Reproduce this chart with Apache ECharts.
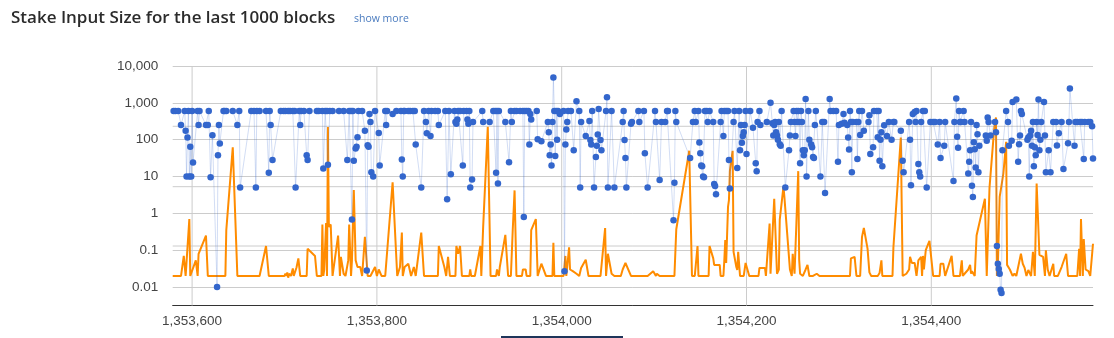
<!DOCTYPE html>
<html><head><meta charset="utf-8">
<script src="https://cdn.jsdelivr.net/npm/echarts@6/dist/echarts.min.js"></script>
<style>html,body{margin:0;padding:0;background:#fff}#c{width:1114px;height:338px}</style>
</head><body><div id="c"></div>
<script>
// ---------- DATA ----------
const titleText = 'Stake Input Size for the last 1000 blocks';
const linkText = 'show more';
const firstBlock = 1353579;
const lastBlock = 1354575;
const xTickValues = [1353600, 1353800, 1354000, 1354200, 1354400];
const xTickLabels = ['1,353,600', '1,353,800', '1,354,000', '1,354,200', '1,354,400'];
const yTickPowers = [-2, -1, 0, 1, 2, 3, 4];
const yTickLabels = ['0.01', '0.1', '1', '10', '100', '1,000', '10,000'];
const yMin = 0.00316;
const yMax = 10000;
const extraGridValues = [231, 5.3, 0.13];

// [block height, stake input size]
const stakePoints = [
[1353580,600],[1353582,600],[1353585,600],[1353588,250],[1353592,600],[1353593,175],[1353594,10],[1353595,115],[1353596,600],[1353597,10],[1353598,64],[1353599,10],[1353600,600],[1353601,24],[1353606,600],[1353607,250],[1353608,600],[1353615,250],[1353617,250],[1353618,600],[1353620,9.6],[1353622,131],[1353627,0.01],[1353628,38],[1353629,250],[1353630,79],[1353634,600],[1353635,600],[1353637,600],[1353644,600],[1353649,250],[1353651,600],[1353652,5],[1353664,600],[1353667,600],[1353669,5],[1353670,600],[1353673,600],[1353680,600],[1353683,12.6],[1353684,600],[1353685,250],[1353687,28],[1353696,600],[1353699,600],[1353701,600],[1353704,600],[1353706,600],[1353709,600],[1353711,600],[1353712,5],[1353716,600],[1353717,250],[1353718,600],[1353721,600],[1353724,38],[1353725,28],[1353727,600],[1353735,600],[1353737,600],[1353741,600],[1353742,16.6],[1353744,600],[1353746,600],[1353747,21],[1353749,600],[1353752,600],[1353759,600],[1353764,600],[1353768,28],[1353770,600],[1353772,600],[1353773,0.68],[1353774,600],[1353775,27],[1353777,58],[1353778,64],[1353779,117],[1353780,600],[1353784,600],[1353787,175],[1353789,0.028],[1353790,71],[1353791,64],[1353792,500],[1353793,300],[1353794,13],[1353796,10],[1353798,600],[1353802,151],[1353803,20],[1353809,600],[1353810,250],[1353811,600],[1353817,500],[1353821,600],
[1353826,600],[1353827,29],[1353828,10],[1353829,600],[1353830,600],[1353834,600],[1353836,600],[1353839,600],[1353841,600],[1353842,74],[1353848,5],[1353851,600],[1353853,300],[1353854,150],[1353856,600],[1353858,125],[1353859,600],[1353863,600],[1353866,600],[1353867,250],[1353874,600],[1353876,2.4],[1353878,600],[1353880,11.6],[1353884,600],[1353885,300],[1353886,270],[1353887,355],[1353888,600],[1353890,600],[1353893,20],[1353894,600],[1353897,600],[1353898,355],[1353899,270],[1353900,600],[1353901,5],[1353903,8.3],[1353904,300],[1353914,600],[1353915,300],[1353922,300],[1353926,600],[1353928,600],[1353929,12.6],[1353930,600],[1353931,6.5],[1353932,600],[1353939,300],[1353943,24.6],[1353945,600],[1353946,300],[1353949,600],[1353951,600],[1353955,600],[1353958,600],[1353959,0.8],[1353960,600],[1353962,600],[1353964,600],[1353965,74],[1353966,500],[1353967,355],[1353973,600],[1353974,102],[1353978,90],[1353985,300],[1353986,160],[1353987,38],[1353988,74],[1353989,20],[1353990,300],[1353991,4900],[1353992,600],[1353993,36],[1353994,600],[1353995,100],[1353996,600],[1353998,500],
[1354002,600],[1354003,0.027],[1354004,74],[1354005,190],[1354006,300],[1354007,600],[1354010,600],[1354013,52],[1354016,1100],[1354019,600],[1354020,5],[1354021,300],[1354026,125],[1354030,320],[1354031,98],[1354032,74],[1354033,600],[1354035,5],[1354037,34],[1354038,68],[1354039,139],[1354040,680],[1354042,98],[1354043,52],[1354048,600],[1354049,1410],[1354050,5],[1354054,600],[1354057,5],[1354066,300],[1354067,600],[1354068,98],[1354069,32],[1354070,5],[1354075,270],[1354076,300],[1354083,600],[1354084,300],[1354089,600],[1354090,43],[1354093,5],[1354101,600],[1354102,300],[1354106,8],[1354108,300],[1354112,300],[1354114,600],[1354115,600],[1354121,0.65],[1354122,6.8],[1354123,600],[1354124,300],[1354139,32],[1354142,300],[1354144,600],[1354145,300],[1354148,600],[1354149,84],[1354150,43],[1354151,20],[1354152,19],[1354153,10],[1354154,9.5],[1354155,600],[1354157,600],[1354158,300],[1354160,600],[1354164,300],[1354165,6.3],[1354166,5.5],[1354167,3.3],[1354172,300],[1354173,600],[1354175,125],[1354176,600],[1354178,600],[1354180,600],[1354181,28],[1354182,4.7],[1354186,300],[1354187,600],[1354190,17],[1354192,600],[1354193,52],[1354194,250],[1354195,82],[1354196,125],[1354197,160],[1354198,250],[1354199,600],[1354200,41],[1354204,600],[1354207,210],[1354210,23],[1354211,14],[1354212,300],[1354214,600],[1354215,250],[1354222,300],[1354226,1010],[1354228,280],[1354229,130],[1354230,250],[1354231,300],[1354232,160],[1354233,130],[1354234,100],[1354235,300],[1354236,75],[1354237,68],[1354238,600],[1354242,5],[1354246,52],[1354247,130],[1354248,300],[1354251,600],[1354252,300],[1354253,125],[1354254,600],[1354255,300],[1354256,600],[1354257,300],[1354258,23],[1354259,600],[1354260,300],[1354261,52],[1354262,38],[1354263,52],[1354264,1270],[1354265,10],[1354267,600],[1354268,100],[1354270,74],[1354271,62],[1354272,34],[1354273,32],[1354274,250],[1354275,600],[1354280,10],[1354282,300],[1354284,300],[1354285,3.6],[1354290,1270],[1354291,600],[1354294,600],[1354297,600],[1354299,25],[1354300,250],
[1354303,270],[1354305,500],[1354306,290],[1354309,250],[1354310,115],[1354311,54],[1354312,600],[1354313,300],[1354314,13],[1354315,300],[1354319,300],[1354320,30],[1354321,300],[1354322,600],[1354323,135],[1354325,600],[1354327,175],[1354332,300],[1354333,460],[1354334,41],[1354337,62],[1354338,600],[1354341,600],[1354342,117],[1354343,600],[1354344,27],[1354345,100],[1354346,160],[1354347,19],[1354349,245],[1354352,125],[1354354,300],[1354357,100],[1354359,300],[1354360,300],[1354367,175],[1354369,27],[1354370,13],[1354376,300],[1354377,100],[1354378,5.8],[1354380,500],[1354382,560],[1354383,300],[1354384,600],[1354386,22],[1354387,13],[1354388,10],[1354389,300],[1354391,600],[1354393,600],[1354395,5],[1354399,300],[1354402,300],[1354404,300],[1354407,74],[1354409,300],[1354410,32],[1354414,68],[1354415,300],[1354424,7.6],[1354425,300],[1354427,1320],[1354428,120],[1354429,60],[1354430,600],[1354431,300],[1354432,300],[1354435,600],[1354436,300],[1354440,12],[1354441,25],[1354442,52],[1354443,300],[1354444,5.6],[1354445,2.8],[1354446,85],[1354447,55],[1354448,17.6],[1354449,250],[1354450,140],[1354451,13],[1354452,68],[1354459,130],[1354460,94],[1354461,400],[1354462,300],[1354464,130],[1354469,300],[1354470,160],[1354471,0.13],[1354472,0.043],[1354473,0.031],[1354474,0.023],[1354475,0.0085],[1354476,0.0069],[1354477,52],[1354481,600],[1354483,300],[1354484,68],[1354487,94],[1354488,1050],[1354492,1240],[1354494,25],[1354495,75],[1354496,130],[1354497,600],[1354498,500],[1354504,100],[1354505,115],[1354506,10],[1354507,130],[1354508,175],[1354509,68],[1354510,300],[1354511,19],[1354512,62],[1354513,38],[1354514,300],[1354515,135],[1354516,1240],[1354517,52],[1354518,100],[1354519,300],[1354522,1050],[1354523,130],[1354524,13],[1354527,52],[1354529,13],[1354532,300],[1354535,300],[1354536,70],[1354538,150],[1354541,300],[1354543,16],[1354548,80],[1354549,300],[1354550,2470],[1354555,68],[1354556,300],[1354558,300],[1354561,300],[1354563,300],[1354565,30],[1354566,300],[1354570,300],[1354572,300],[1354574,230],[1354575,31]
];

// [block height, second (orange) series value]
const orangePoints = [
[1353579,0.02],[1353588,0.02],[1353591,0.07],[1353593,0.02],[1353595,0.02],[1353597,0.7],[1353598,0.02],[1353604,0.053],[1353606,0.02],[1353607,0.08],[1353615,0.25],[1353617,0.02],[1353636,0.02],[1353637,0.35],[1353644,62],[1353649,0.02],[1353673,0.02],[1353680,0.13],[1353683,0.02],[1353700,0.02],[1353701,0.023],[1353702,0.02],[1353703,0.025],[1353704,0.018],[1353705,0.023],[1353707,0.02],[1353709,0.032],[1353710,0.02],[1353713,0.034],[1353715,0.06],[1353717,0.02],[1353724,0.02],[1353725,0.11],[1353733,0.07],[1353735,0.02],[1353740,0.02],[1353741,0.5],[1353742,0.02],[1353743,0.03],[1353745,0.55],[1353746,0.02],[1353747,220],[1353748,0.43],[1353750,0.5],[1353752,0.02],[1353758,0.25],[1353760,0.02],[1353761,0.066],[1353764,0.023],[1353766,0.02],[1353769,0.053],[1353770,0.5],[1353772,0.02],[1353773,0.053],[1353775,4.3],[1353777,0.053],[1353779,0.035],[1353782,0.035],[1353784,0.02],[1353787,0.23],[1353789,0.23],[1353790,0.02],[1353793,0.02],[1353798,0.035],[1353800,0.02],[1353802,0.03],[1353805,0.02],[1353809,0.02],[1353817,7],[1353822,0.02],[1353825,0.035],[1353827,0.3],[1353828,0.02],[1353830,0.035],[1353834,0.043],[1353837,0.02],[1353839,0.02],[1353840,0.035],[1353842,0.02],[1353848,0.3],[1353851,0.02],[1353866,0.02],[1353867,0.13],[1353873,0.035],[1353875,0.02],[1353877,0.066],[1353879,0.02],[1353885,0.02],[1353886,0.13],[1353888,0.08],[1353890,0.13],[1353892,0.02],[1353900,0.02],[1353901,0.03],[1353902,0.02],[1353906,0.02],[1353912,0.13],[1353913,0.02],[1353915,0.43],[1353920,225],[1353923,0.02],[1353929,0.02],[1353930,0.03],[1353932,0.02],[1353933,0.035],[1353939,0.26],[1353942,0.02],[1353945,0.02],[1353947,0.35],[1353949,4.2],[1353951,0.02],[1353957,0.02],[1353958,0.03],[1353961,0.03],[1353962,0.02],[1353966,0.02],[1353967,0.35],[1353972,0.7],[1353974,0.02],[1353978,0.043],[1353983,0.02],[1353990,0.02],[1353991,0.16],[1353992,0.02],
[1354002,0.02],[1354004,0.07],[1354005,0.02],[1354008,0.12],[1354009,0.03],[1354012,0.027],[1354016,0.023],[1354019,0.02],[1354021,0.033],[1354026,0.055],[1354029,0.02],[1354042,0.02],[1354047,0.4],[1354048,0.02],[1354050,0.08],[1354054,0.023],[1354057,0.02],[1354064,0.02],[1354066,0.03],[1354069,0.045],[1354075,0.02],[1354093,0.02],[1354099,0.027],[1354101,0.03],[1354102,0.02],[1354103,0.023],[1354106,0.02],[1354122,0.02],[1354124,0.37],[1354138,50],[1354141,0.02],[1354144,0.02],[1354147,0.13],[1354148,0.02],[1354159,0.02],[1354160,0.13],[1354164,0.06],[1354165,0.04],[1354171,0.04],[1354172,0.02],[1354175,0.02],[1354176,0.053],[1354177,0.19],[1354178,0.045],[1354180,1.5],[1354181,2.3],[1354182,14],[1354183,22],[1354185,50],[1354186,0.09],[1354189,0.035],[1354190,0.029],[1354191,0.09],[1354193,0.02],[1354197,0.02],[1354199,0.045],[1354203,0.02],[1354213,0.02],[1354214,0.033],[1354220,0.033],[1354221,0.02],[1354225,0.53],[1354226,0.023],[1354230,2.5],[1354232,2.5],[1354233,0.023],[1354235,0.03],[1354236,0.68],[1354240,5.3],[1354241,2.8],[1354247,0.03],[1354249,0.02],[1354250,0.08],[1354252,0.023],[1354254,0.55],[1354256,14],[1354257,0.055],[1354258,0.023],[1354261,0.02],[1354264,0.03],[1354266,0.04],[1354268,0.02],[1354272,0.02],[1354276,0.023],[1354279,0.02],[1354312,0.02],[1354313,0.06],[1354317,0.066],[1354319,0.02],[1354323,0.02],[1354325,0.23],[1354327,0.4],[1354331,0.11],[1354333,0.025],[1354335,0.02],[1354342,0.02],[1354344,0.024],[1354346,0.053],[1354347,0.02],[1354358,0.02],[1354359,0.12],[1354367,115],[1354369,0.02],[1354373,0.023],[1354376,0.03],[1354377,0.066],[1354379,0.045],[1354382,0.045],[1354384,0.02],[1354386,0.053],[1354389,0.066],[1354390,0.02],[1354391,0.07],[1354392,0.03],[1354394,0.1],[1354398,0.18],[1354402,0.02],[1354409,0.02],[1354410,0.043],[1354413,0.043],[1354415,0.02],[1354422,0.07],[1354424,0.02],[1354431,0.02],[1354433,0.053],[1354434,0.02],[1354436,0.023],[1354440,0.03],[1354442,0.04],[1354443,0.023],[1354444,0.027],[1354447,0.02],[1354449,0.25],[1354458,2.5],[1354460,0.02],[1354463,5],[1354468,190],[1354470,400],[1354471,0.02],[1354472,0.035],[1354474,2.8],[1354478,12],[1354481,88],[1354482,0.04],[1354485,0.03],[1354488,0.02],[1354490,0.023],[1354492,0.02],[1354497,0.08],[1354499,0.043],[1354501,0.033],[1354503,0.02],[1354505,0.029],[1354508,0.02],[1354510,0.09],[1354512,0.02],[1354514,6.5],[1354517,0.075],[1354521,0.066],[1354523,0.02],[1354524,0.1],[1354526,0.03],[1354528,0.02],[1354532,0.043],[1354533,0.02],[1354537,0.02],[1354541,0.035],[1354546,0.08],[1354548,0.02],[1354558,0.02],[1354560,0.11],[1354561,0.02],[1354562,0.7],[1354564,0.02],[1354565,0.2],[1354567,0.03],[1354570,0.027],[1354572,0.02],[1354575,0.15]
];

// ---------- CHART ----------
const chart = echarts.init(document.getElementById('c'), null, {renderer: 'canvas'});
const labelFont = '"Liberation Sans", Arial, sans-serif';
const gridColor = '#cccccc';

function fmtY(v) {
  const e = Math.log10(v);
  const r = Math.round(e);
  if (Math.abs(e - r) > 1e-6) return '';
  const i = yTickPowers.indexOf(r);
  return i >= 0 ? yTickLabels[i] : '';
}
function fmtX(v) {
  const i = xTickValues.indexOf(Math.round(v));
  return i >= 0 ? xTickLabels[i] : '';
}

// gridline helper series (drawn through the axes' scales)
function gridSeries(points) {
  return {
    type: 'line', data: points, z: 0, silent: true, symbol: 'none', showSymbol: false,
    lineStyle: {color: gridColor, width: 1}, emphasis: {disabled: true}, tooltip: {show: false}
  };
}
const gridLineSeries = xTickValues.map(v => gridSeries([[v, yMin], [v, yMax]]))
  .concat(extraGridValues.map(v => gridSeries([[firstBlock, v], [lastBlock, v]])));

chart.setOption({
  animation: false,
  backgroundColor: '#fff',
  title: {
    text: titleText, left: 6, top: 5,
    textStyle: {fontFamily: '"Open Sans", sans-serif', fontWeight: 600, fontSize: 17, color: '#2b2b2b'}
  },
  graphic: [
    {type: 'text', left: 354, top: 14, style: {text: linkText, fontFamily: '"Open Sans", sans-serif', fontSize: 10.5, fill: '#4a7bbf'}},
    {type: 'rect', left: 501, top: 336, shape: {width: 122, height: 2}, style: {fill: '#1e355a'}}
  ],
  grid: {left: 172.7, right: 21, top: 66, bottom: 32.5, containLabel: false},
  xAxis: {
    type: 'value', min: firstBlock, max: lastBlock,
    axisLine: {show: true, lineStyle: {color: '#333', width: 1}},
    axisTick: {show: false},
    splitLine: {show: false},
    axisLabel: {formatter: fmtX, showMinLabel: false, showMaxLabel: false, color: '#444', fontSize: 13.5, fontFamily: labelFont, margin: 9}
  },
  yAxis: {
    type: 'log', logBase: 10, min: yMin, max: yMax,
    axisLine: {show: false}, axisTick: {show: false},
    splitLine: {show: true, lineStyle: {color: gridColor, width: 1}},
    axisLabel: {formatter: fmtY, color: '#444', fontSize: 13.5, fontFamily: labelFont, margin: 14.5}
  },
  series: gridLineSeries.concat([
    {
      type: 'line', name: 'Orange', data: orangePoints, z: 2, showSymbol: false, symbol: 'none',
      lineStyle: {color: '#ff8c00', width: 2}, itemStyle: {color: '#ff8c00'}
    },
    {
      type: 'line', name: 'Stake Input Size', data: stakePoints, z: 3,
      symbol: 'circle', symbolSize: 6.5, showSymbol: true, showAllSymbol: true,
      itemStyle: {color: '#3366cc', borderWidth: 0},
      lineStyle: {color: '#3366cc', width: 1, opacity: 0.22}
    }
  ])
});
</script>
</body></html>
